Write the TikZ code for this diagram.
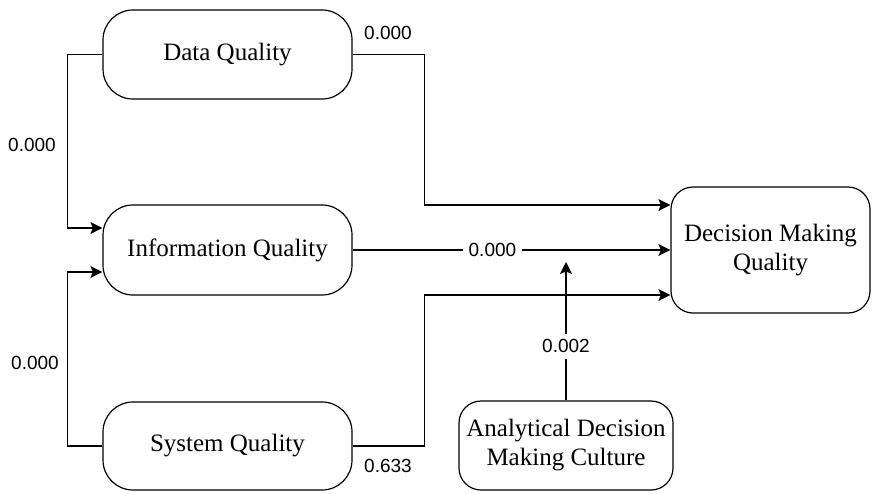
\documentclass[tikz,border=0pt]{standalone}
\usepackage{fontspec}
\setmainfont{Liberation Serif}
\newfontfamily\labelfont{Liberation Sans}
\usepackage[svgnames]{xcolor}
\usepackage{tikz}
\usetikzlibrary{arrows.meta}
\colorlet{edge}{black}

\begin{document}
\begin{tikzpicture}[
  x=1pt, y=-1pt,
  construct/.style={draw, line width=1.2pt, rounded corners=30pt, align=center,
    font=\fontsize{25}{29}\selectfont, minimum width=249pt, minimum height=89pt, inner sep=0pt},
  outcome/.style={construct, rounded corners=22pt},
  path line/.style={draw=edge, line width=1.2pt},
  path arrow/.style={path line, -{Stealth[length=12pt,width=12pt,inset=2.5pt]}},
  coef/.style={font=\labelfont\fontsize{19}{21}\selectfont, inner sep=2pt},
]
\useasboundingbox (0,0) rectangle (872,493);
% constructs
\node[construct] (dq) at (227.5,54.5) {Data Quality};
\node[construct, minimum height=90pt] (iq) at (227.5,250) {Information Quality};
\node[construct, minimum height=88pt] (sq) at (227.5,446) {System Quality};
\node[outcome, minimum width=199pt, minimum height=126pt] (dmq) at (770.5,250) {Decision Making\\Quality};
\node[outcome, minimum width=214pt] (admc) at (566,445.5) {Analytical Decision\\Making Culture};
\coordinate (mod) at (566,262);
% paths
\draw[path arrow] (dq.west) -- ++(-35,0) |- ([yshift=22pt]iq.west);
\draw[path arrow] (sq.west) -- ++(-35,0) |- ([yshift=-22pt]iq.west);
\draw[path arrow] (dq.east) -- ++(72,0) |- ([yshift=45pt]dmq.west);
\draw[path arrow] (iq.east) -- node[coef, fill=white, pos=0.44, inner xsep=6pt] (c3) {0.000} (dmq.west);
\draw[path arrow] (sq.east) -- ++(72,0) |- ([yshift=-45pt]dmq.west);
\draw[path arrow] (admc.north) -- node[coef, fill=white, pos=0.39, inner ysep=6pt] (c6) {0.002} (mod);
% coefficients
\node[coef] (c1) at (32,145) {0.000};
\node[coef] (c2) at (35,363) {0.000};
\node[coef] (c4) at (388,33) {0.000};
\node[coef] (c5) at (388,466) {0.633};
\end{tikzpicture}
\end{document}
